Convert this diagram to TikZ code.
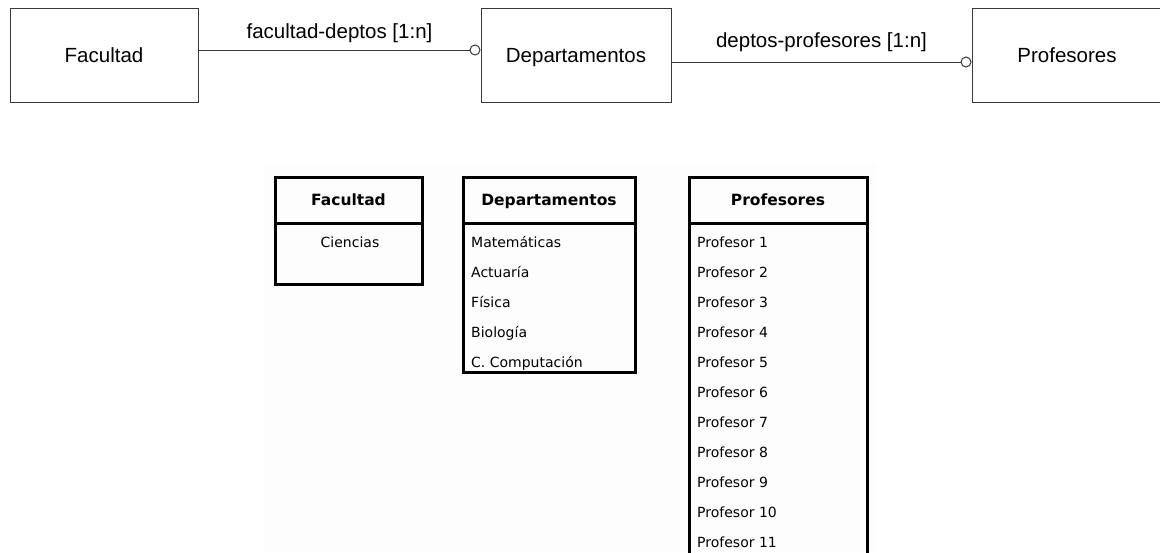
\documentclass[tikz,border=0pt]{standalone}
\usepackage{fontspec}
\setmainfont{Liberation Sans}
\newfontfamily\tabfont{DejaVu Sans}
\usetikzlibrary{arrows.meta}

\definecolor{edge}{gray}{0.22}
\definecolor{panel}{RGB}{253,253,253}

\tikzset{
  entity/.style={draw=edge, line width=1pt, minimum width=189pt, minimum height=94pt,
    inner sep=0pt, text height=14.7pt, text depth=0pt, font=\fontsize{20.5}{24}\selectfont},
  rel/.style={draw=edge, line width=1pt, -{Circle[open,length=11pt,width=11pt]}},
  rellabel/.style={font=\fontsize{20.5}{24}\selectfont, inner sep=0pt},
  thead/.style={draw=black, line width=3pt, inner sep=0pt, minimum height=46pt,
    text height=11.3pt, text depth=0pt,
    font=\tabfont\bfseries\fontsize{15.5}{18}\selectfont},
  tbody/.style={draw=black, line width=3pt, inner sep=0pt},
  trow/.style={font=\tabfont\fontsize{14}{16}\selectfont, inner sep=0pt, anchor=west,
    text height=10.2pt, text depth=0pt},
}

\begin{document}
\begin{tikzpicture}[x=1pt, y=-1pt]
\useasboundingbox (0,0) rectangle (1160,552);
\fill[white] (0,0) rectangle (1160,552);

% entities and relations
\node[entity, minimum width=188pt] (fac) at (104,55) {Facultad};
\node[entity, minimum width=190pt] (dep) at (576,55) {Departamentos};
\node[entity, minimum width=190pt] (pro) at (1067,55) {Profesores};

\draw[rel] ([yshift=5pt]fac.east) -- node[rellabel, midway, yshift=17pt] (r1) {facultad-deptos [1:n]} ([yshift=5pt]dep.west);
\draw[rel] ([yshift=-7pt]dep.east) -- node[rellabel, midway, yshift=19.5pt] (r2) {deptos-profesores [1:n]} ([yshift=-7pt]pro.west);

% sample data tables
\fill[panel] (264,163) rectangle (877,552);

% Facultad
\node[tbody, minimum width=147pt, minimum height=61pt] (tfacb) at (348.5,253.5) {};
\node[thead, minimum width=147pt] (tfach) at (348.5,200) {Facultad};
\node[trow, anchor=center] (c1) at (350,242) {Ciencias};

% Departamentos
\node[tbody, minimum width=172pt, minimum height=149pt] (tdepb) at (549,297.5) {};
\node[thead, minimum width=172pt] (tdeph) at (549,200) {Departamentos};
\node[trow] (d1) at (471,242) {Matemáticas};
\node[trow] (d2) at (471,272) {Actuaría};
\node[trow] (d3) at (471,302) {Física};
\node[trow] (d4) at (471,332) {Biología};
\node[trow] (d5) at (471,362) {C. Computación};

% Profesores
\node[tbody, minimum width=178pt, minimum height=377pt] (tprob) at (778,411.5) {};
\node[thead, minimum width=178pt] (tproh) at (778,200) {Profesores};
\foreach \i in {1,...,11}{
  \node[trow] (p\i) at (697,{212+30*\i}) {Profesor \i};
}
\end{tikzpicture}
\end{document}
